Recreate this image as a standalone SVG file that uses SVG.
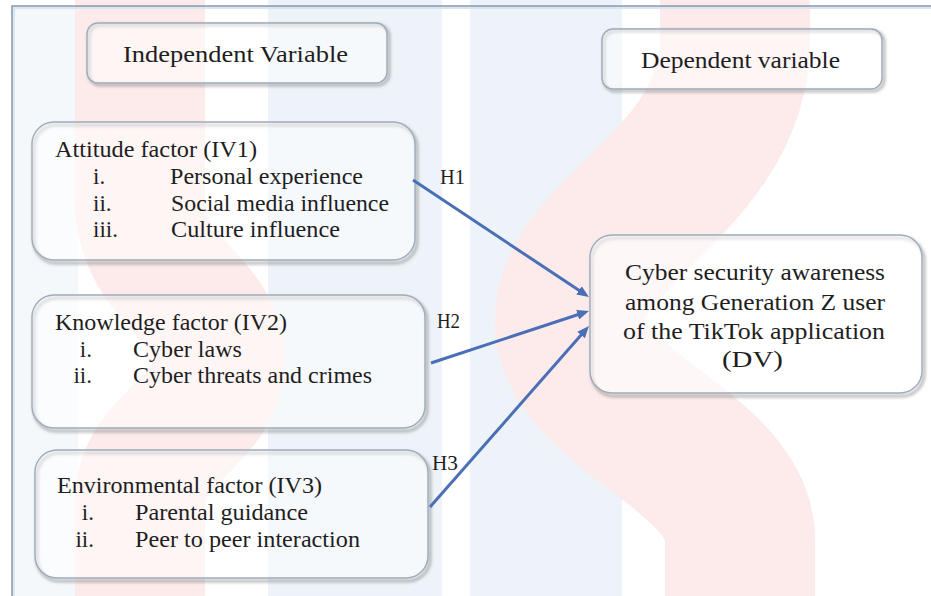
<svg xmlns="http://www.w3.org/2000/svg" width="931" height="596" viewBox="0 0 931 596">
  <defs>
    <style>
      .txt { font-family: "Liberation Serif", "Times New Roman", serif; font-size: 23px; fill: #1e1e1e; }
      .hdr { font-family: "Liberation Serif", "Times New Roman", serif; font-size: 23px; fill: #1e1e1e; }
      .hl { font-family: "Liberation Serif", "Times New Roman", serif; font-size: 21px; fill: #1e1e1e; }
      .box { fill: #ffffff; fill-opacity: 0.5; stroke: #9eacbb; stroke-width: 1.4; }
      .dvbox { fill: #ffffff; fill-opacity: 0.6; stroke: #9eacbb; stroke-width: 1.4; }
      .shadow { fill: none; stroke: #7d7d7d; stroke-width: 3; stroke-opacity: 0.55; filter: url(#blur); }
      .conn { stroke: #4a6fb6; stroke-width: 3; fill: none; marker-end: url(#arrow); }
      .wm-pink { fill: none; stroke: #fcebea; }
      .wm-blue { fill: #edf3f8; }
    </style>
    <filter id="blur" x="-10%" y="-10%" width="120%" height="130%">
      <feGaussianBlur stdDeviation="1.8"/>
    </filter>
    <marker id="arrow" markerUnits="userSpaceOnUse" markerWidth="12" markerHeight="10" refX="4" refY="5" orient="auto">
      <path d="M0,0 L12,5 L0,10 z" fill="#4a6fb6"/>
    </marker>
  </defs>

  <rect x="0" y="0" width="931" height="596" fill="#ffffff"/>

  <g id="watermark">
    <rect class="wm-blue" x="12" y="6" width="66" height="590" opacity="0.6"/>
    <rect class="wm-blue" x="268" y="0" width="174" height="596"/>
    <rect class="wm-blue" x="470" y="0" width="152" height="596"/>
    <path class="wm-pink" stroke-width="130" d="M140,-10 L140,200 C140,280 220,300 220,360 C220,420 140,440 140,500 L140,610"/>
    <path class="wm-pink" stroke-width="150" d="M735,-10 L735,40 C735,180 570,230 570,320 C570,410 740,450 740,540 L740,610"/>
  </g>

  <g id="frame">
    <path d="M12,596 L12,6 L931,6" fill="none" stroke="#8697aa" stroke-width="1.5"/>
    <path d="M14,596 L14,8 L931,8" fill="none" stroke="#d9e6f2" stroke-width="2"/>
  </g>

  <g id="header-iv">
    <rect class="shadow" x="89" y="25" width="300" height="60" rx="11"/>
    <rect class="box" x="87" y="23" width="300" height="60" rx="11"/>
    <text class="hdr" x="123" y="62" textLength="225" lengthAdjust="spacingAndGlyphs">Independent Variable</text>
  </g>

  <g id="header-dv">
    <rect class="shadow" x="604" y="31" width="280" height="60" rx="11"/>
    <rect class="box" x="602" y="29" width="280" height="60" rx="11"/>
    <text class="hdr" x="641" y="68" textLength="199" lengthAdjust="spacingAndGlyphs">Dependent variable</text>
  </g>

  <g id="iv1">
    <rect class="shadow" x="34" y="125" width="383" height="138" rx="22"/>
    <rect class="box" x="32" y="122" width="383" height="138" rx="22"/>
    <text class="txt" x="55" y="157" textLength="202" lengthAdjust="spacingAndGlyphs">Attitude factor (IV1)</text>
    <text class="txt" x="93" y="184">i.</text>
    <text class="txt" x="170" y="184" textLength="193" lengthAdjust="spacingAndGlyphs">Personal experience</text>
    <text class="txt" x="93" y="211">ii.</text>
    <text class="txt" x="171" y="211" textLength="218" lengthAdjust="spacingAndGlyphs">Social media influence</text>
    <text class="txt" x="93" y="237">iii.</text>
    <text class="txt" x="171" y="237" textLength="169" lengthAdjust="spacingAndGlyphs">Culture influence</text>
  </g>

  <g id="iv2">
    <rect class="shadow" x="34" y="298" width="393" height="133" rx="22"/>
    <rect class="box" x="32" y="295" width="393" height="133" rx="22"/>
    <text class="txt" x="55" y="330" textLength="232" lengthAdjust="spacingAndGlyphs">Knowledge factor (IV2)</text>
    <text class="txt" x="92" y="357" text-anchor="end">i.</text>
    <text class="txt" x="133" y="357" textLength="109" lengthAdjust="spacingAndGlyphs">Cyber laws</text>
    <text class="txt" x="92" y="383" text-anchor="end">ii.</text>
    <text class="txt" x="133" y="383" textLength="239" lengthAdjust="spacingAndGlyphs">Cyber threats and crimes</text>
  </g>

  <g id="iv3">
    <rect class="shadow" x="37" y="453" width="393" height="128" rx="22"/>
    <rect class="box" x="35" y="450" width="393" height="128" rx="22"/>
    <text class="txt" x="57" y="493" textLength="265" lengthAdjust="spacingAndGlyphs">Environmental factor (IV3)</text>
    <text class="txt" x="94" y="520" text-anchor="end">i.</text>
    <text class="txt" x="135" y="520" textLength="173" lengthAdjust="spacingAndGlyphs">Parental guidance</text>
    <text class="txt" x="94" y="547" text-anchor="end">ii.</text>
    <text class="txt" x="135" y="547" textLength="225" lengthAdjust="spacingAndGlyphs">Peer to peer interaction</text>
  </g>

  <g id="dv">
    <rect class="shadow" x="592" y="238" width="332" height="158" rx="22"/>
    <rect class="dvbox" x="590" y="235" width="332" height="158" rx="22"/>
    <text class="txt" x="625" y="280" textLength="260" lengthAdjust="spacingAndGlyphs" style="font-size:24px">Cyber security awareness</text>
    <text class="txt" x="625" y="310" textLength="260" lengthAdjust="spacingAndGlyphs" style="font-size:24px">among Generation Z user</text>
    <text class="txt" x="623" y="339" textLength="262" lengthAdjust="spacingAndGlyphs" style="font-size:24px">of the TikTok application</text>
    <text class="txt" x="722" y="367" textLength="61" lengthAdjust="spacingAndGlyphs" style="font-size:24px">(DV)</text>
  </g>

  <g id="connectors">
    <path class="conn" d="M413,180 L582.3,292.6"/>
    <path class="conn" d="M431,363 L581.4,313.5"/>
    <path class="conn" d="M430,507 L583.7,332"/>
    <text class="hl" x="440" y="184" textLength="25" lengthAdjust="spacingAndGlyphs">H1</text>
    <text class="hl" x="437" y="328" textLength="23" lengthAdjust="spacingAndGlyphs">H2</text>
    <text class="hl" x="432" y="470" textLength="26" lengthAdjust="spacingAndGlyphs">H3</text>
  </g>
</svg>
